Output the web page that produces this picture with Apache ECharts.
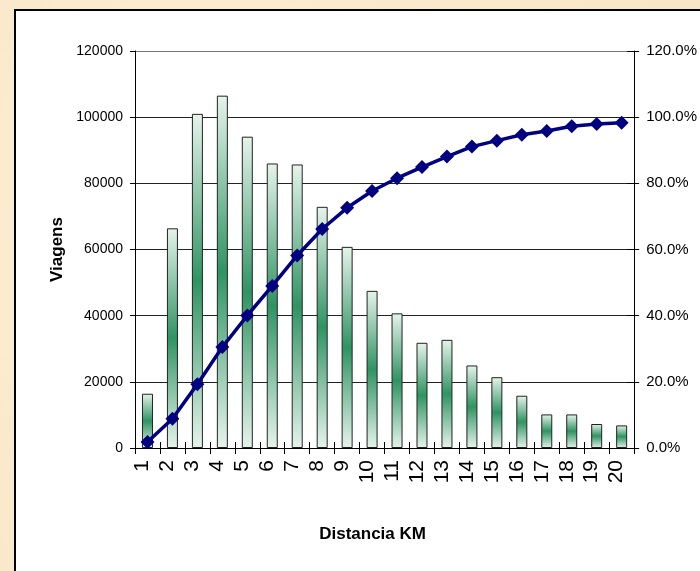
<!DOCTYPE html>
<html>
<head>
<meta charset="utf-8">
<title>Viagens por distância</title>
<script src="https://cdn.jsdelivr.net/npm/echarts@6/dist/echarts.min.js"></script>
<style>
  html, body { margin: 0; padding: 0; background: #fbebcd; }
  #chart { width: 700px; height: 571px; }
</style>
</head>
<body>
<div id="chart"></div>
<script>
// Distance classes (km)
const distancias = ['1','2','3','4','5','6','7','8','9','10','11','12','13','14','15','16','17','18','19','20'];
// Trips per distance class
const viagens = [16400, 66400, 101000, 106500, 94100, 86000, 85700, 72900, 60800, 47500,
                 40700, 31800, 32700, 24950, 21400, 15800, 10150, 10150, 7250, 6830];
// Cumulative share of trips (%)
const acumulado = [1.8, 8.85, 19.3, 30.5, 40.05, 49.0, 58.2, 66.2, 72.6, 77.7,
                   81.55, 84.9, 88.1, 91.1, 92.9, 94.7, 95.8, 97.25, 97.95, 98.3];
// Axis ranges
const viagensMax = 120000, viagensStep = 20000;
const pctMax = 120, pctStep = 20;

const FONT = "'Liberation Sans', Arial, sans-serif";

const chart = echarts.init(document.getElementById('chart'), null, { renderer: 'canvas' });

const barFill = new echarts.graphic.LinearGradient(0, 0, 0, 1, [
  { offset: 0, color: '#e6f4ec' },
  { offset: 0.5, color: '#2f9462' },
  { offset: 1, color: '#e6f4ec' }
]);

chart.setOption({
  backgroundColor: new echarts.graphic.RadialGradient(0.3, 0.4, 0.9, [
    { offset: 0, color: '#fcefd6' },
    { offset: 1, color: '#f9e6c6' }
  ]),
  animation: false,
  graphic: [{
    type: 'rect',
    shape: { x: 15, y: 10, width: 720, height: 600 },
    style: { fill: '#ffffff', stroke: '#000000', lineWidth: 2 },
    z: -10,
    silent: true
  }],
  grid: { left: 135, right: 65, top: 51, bottom: 123 },
  xAxis: [{
    type: 'category',
    data: distancias,
    boundaryGap: true,
    name: 'Distancia KM',
    nameLocation: 'middle',
    nameGap: 78,
    nameTextStyle: {
      fontFamily: FONT, fontSize: 17, fontWeight: 'bold', color: '#000',
      padding: [0, 24, 0, 0]
    },
    axisLine: { lineStyle: { color: '#000', width: 1 } },
    axisTick: { show: true, interval: 0, length: 6, lineStyle: { color: '#000' } },
    axisLabel: {
      interval: 0, rotate: 90, margin: 12,
      fontFamily: FONT, fontSize: 21, color: '#000',
      verticalAlign: 'bottom', lineHeight: 10
    },
    splitLine: { show: false }
  }, {
    // inner half of the category ticks (ticks cross the axis line)
    type: 'category',
    data: distancias,
    position: 'bottom',
    boundaryGap: true,
    axisLine: { show: false },
    axisTick: { show: true, inside: true, interval: 0, length: 6, lineStyle: { color: '#000' } },
    axisLabel: { show: false },
    splitLine: { show: false }
  }],
  yAxis: [{
    type: 'value',
    min: 0, max: viagensMax, interval: viagensStep,
    name: 'Viagens',
    nameLocation: 'middle',
    nameGap: 68,
    nameTextStyle: { fontFamily: FONT, fontSize: 17, fontWeight: 'bold', color: '#000' },
    axisLine: { show: true, lineStyle: { color: '#000', width: 1 } },
    axisTick: { show: true, length: 5, lineStyle: { color: '#000' } },
    axisLabel: {
      margin: 12, fontFamily: FONT, fontSize: 14, color: '#000',
      formatter: v => String(v)
    },
    splitLine: { show: true, lineStyle: { color: ['#222', '#222', '#222', '#222', '#222', '#222', '#777'], width: 1 } }
  }, {
    type: 'value',
    min: 0, max: pctMax, interval: pctStep,
    position: 'right',
    axisLine: { show: true, lineStyle: { color: '#000', width: 1 } },
    axisTick: { show: true, length: 5, lineStyle: { color: '#000' } },
    axisLabel: {
      margin: 12, fontFamily: FONT, fontSize: 15, color: '#000',
      formatter: v => v.toFixed(1) + '%'
    },
    splitLine: { show: false }
  }, {
    // inner half of the percentage ticks
    type: 'value',
    min: 0, max: pctMax, interval: pctStep,
    position: 'right',
    axisLine: { show: false },
    axisTick: { show: true, inside: true, length: 7, lineStyle: { color: '#000' } },
    axisLabel: { show: false },
    splitLine: { show: false }
  }],
  series: [{
    name: 'Viagens',
    type: 'bar',
    data: viagens,
    barWidth: 11,
    itemStyle: { color: barFill, borderColor: '#222', borderWidth: 1 },
    z: 2
  }, {
    name: 'Acumulado',
    type: 'line',
    yAxisIndex: 1,
    data: acumulado,
    symbol: 'diamond',
    symbolSize: 14,
    lineStyle: { color: '#000080', width: 3.5 },
    itemStyle: { color: '#000080' },
    z: 3
  }]
});
</script>
</body>
</html>
